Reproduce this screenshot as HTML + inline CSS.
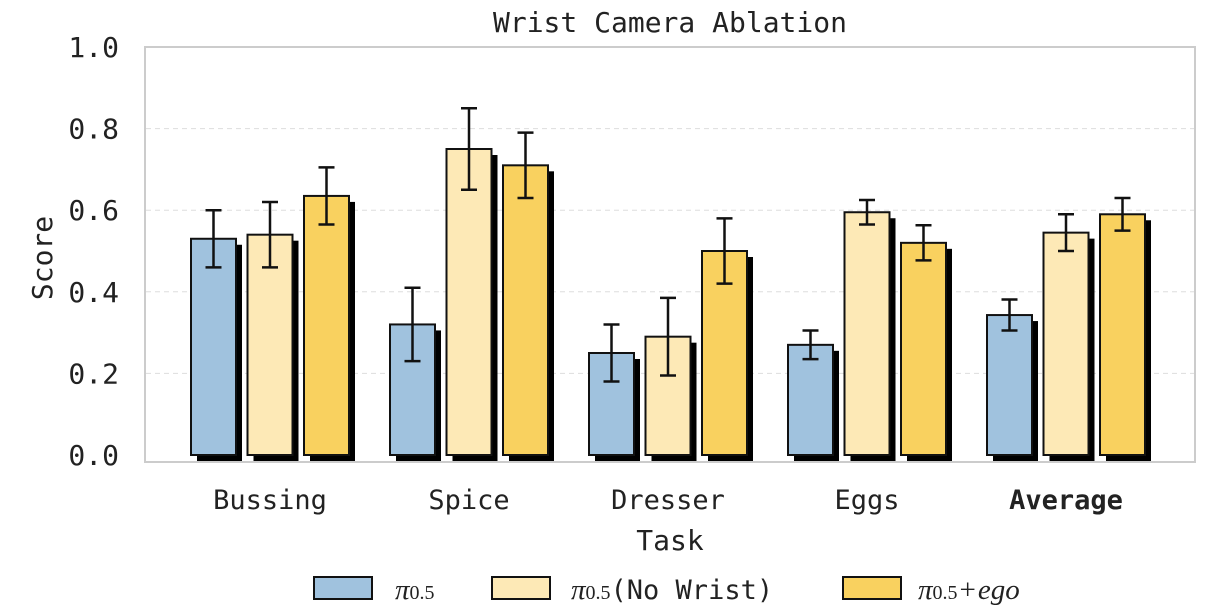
<!DOCTYPE html>
<html><head><meta charset="utf-8"><style>
body{margin:0;background:#fff;}
svg text{font-family:"DejaVu Sans Mono","Liberation Mono",monospace;fill:#222;}
.it{font-family:"Liberation Serif",serif;font-style:italic;}
</style></head><body>
<svg id="chart" width="1208" height="606" xmlns="http://www.w3.org/2000/svg">
<text x="670" y="32" font-size="28" text-anchor="middle">Wrist Camera Ablation</text>
<rect x="145" y="47" width="1050" height="415" fill="none" stroke="#ccc" stroke-width="2"/>
<g id="grid"></g>
<g id="bars"></g>
<text x="670" y="550" font-size="28" text-anchor="middle">Task</text>
<text transform="translate(52,258) rotate(-90)" font-size="28" text-anchor="middle">Score</text>
<g>
<rect x="314" y="577" width="58" height="22" fill="#a0c2de" stroke="#111" stroke-width="2"/>
<text x="395" y="599" font-size="29" class="it">π<tspan font-size="20" font-style="normal">0.5</tspan></text>
<rect x="492" y="577" width="58" height="22" fill="#fde9b6" stroke="#111" stroke-width="2"/>
<text x="571" y="599" font-size="27"><tspan class="it" font-size="29">π</tspan><tspan font-size="20" font-family="Liberation Serif">0.5</tspan>(No Wrist)</text>
<rect x="843" y="577" width="58" height="22" fill="#f9d15f" stroke="#111" stroke-width="2"/>
<text x="918" y="599" font-size="29" class="it">π<tspan font-size="20" font-style="normal">0.5</tspan><tspan font-style="normal" dx="2">+</tspan><tspan dx="2">ego</tspan></text>
</g>
</svg>
<script>
const categories=["Bussing","Spice","Dresser","Eggs","Average"];
const basePi=[0.53,0.32,0.25,0.27,0.343];
const basePiErr=[0.07,0.09,0.07,0.035,0.038];
const noWrist=[0.54,0.75,0.29,0.595,0.545];
const noWristErr=[0.08,0.10,0.095,0.03,0.045];
const ego=[0.635,0.71,0.50,0.52,0.59];
const egoErr=[0.07,0.08,0.08,0.043,0.04];
const yTicks=[0,0.2,0.4,0.6,0.8,1.0];
const tickLabels=["0.0","0.2","0.4","0.6","0.8","1.0"];
const NS="http://www.w3.org/2000/svg";
function y(v){return 455-v*408;}
function xc(i){return 270+i*199;}
function mk(t,a,p){const e=document.createElementNS(NS,t);for(const k in a)e.setAttribute(k,a[k]);p.appendChild(e);return e;}
const grid=document.getElementById('grid'),bars=document.getElementById('bars'),svg=document.getElementById('chart');
yTicks.forEach((v,i)=>{
 if(v>0&&v<1){const l=mk('line',{x1:146,x2:1194,y1:y(v),y2:y(v),stroke:'#ddd','stroke-dasharray':'5,4'},grid);
 
 }
 const t=mk('text',{x:119,y:y(v)+10,'font-size':28,'text-anchor':'end'},svg);t.textContent=tickLabels[i];
 
 
});
const series=[[basePi,basePiErr,'#a0c2de','pi05'],[noWrist,noWristErr,'#fde9b6','no-wrist'],[ego,egoErr,'#f9d15f','ego']];
categories.forEach((c,i)=>{
 series.forEach((s,j)=>{
  const x=xc(i)-79+j*56.5, v=s[0][i], e=s[1][i];
  const sh=mk('rect',{x:x+6,y:y(v)+6,width:45,height:y(0)-y(v),fill:'#000'},bars);
  
  
  const r=mk('rect',{x:x,y:y(v),width:45,height:y(0)-y(v),fill:s[2],stroke:'#111','stroke-width':2},bars);
  
  
  const cx=x+22.5;
  const eb=mk('path',{d:`M${cx},${y(v-e)}V${y(v+e)}M${cx-8},${y(v-e)}H${cx+8}M${cx-8},${y(v+e)}H${cx+8}`,stroke:'#111','stroke-width':2.5,fill:'none'},bars);
  
  
 });
 const t=mk('text',{x:xc(i),y:509,'font-size':27,'text-anchor':'middle'},svg);t.textContent=c;
 if(c==="Average")t.setAttribute('font-weight','bold');
 
 
});
</script>
</body></html>
